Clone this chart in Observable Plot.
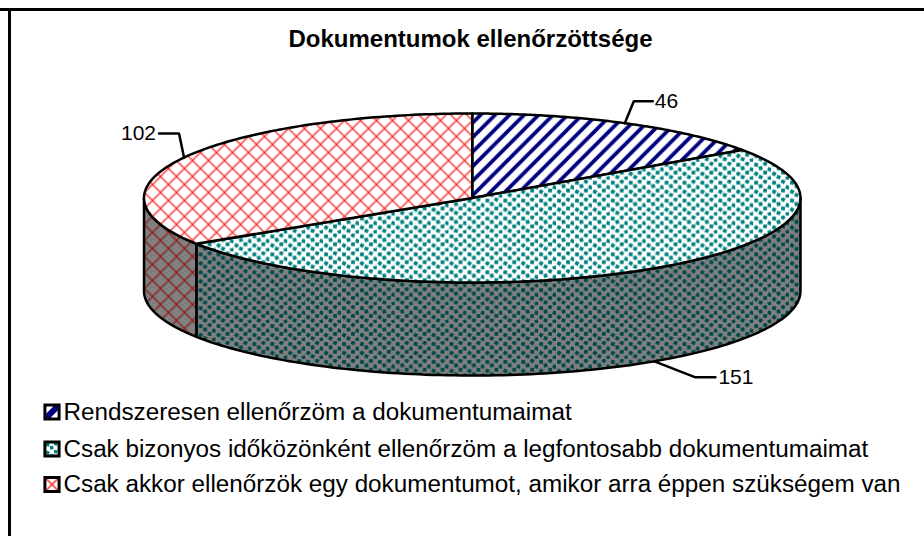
<!DOCTYPE html>
<html><head><meta charset="utf-8">
<script src="https://cdn.jsdelivr.net/npm/d3@7"></script>
<script src="https://cdn.jsdelivr.net/npm/@observablehq/plot@0.6"></script>
<style>html,body{margin:0;padding:0;background:#fff}svg{display:block}</style>
</head><body><div id="c"></div>
<script>
const titleText = "Dokumentumok ellenőrzöttsége";
const categories = [
  "Rendszeresen ellenőrzöm a dokumentumaimat",
  "Csak bizonyos időközönként ellenőrzöm a legfontosabb dokumentumaimat",
  "Csak akkor ellenőrzök egy dokumentumot, amikor arra éppen szükségem van"
];
const values = [46, 151, 102];
const topFills = ["url(#pStripe)", "url(#pDots)", "url(#pCross)"];
const sideFills = ["url(#pStripeD)", "url(#pDotsD)", "url(#pCrossD)"];
const swatchFills = ["url(#sStripe)", "url(#sDots)", "url(#sCross)"];

// pie geometry in ellipse units: the x and y scales below map the unit ellipse to the page
const X0 = 143.5, X1 = 800, Y0 = 113, Y1 = 282;
const depth = 93 / ((Y1 - Y0) / 2);
const ux = px => -1 + 2 * (px - X0) / (X1 - X0);
const uy = py => 1 - 2 * (py - Y0) / (Y1 - Y0);
const total = d3.sum(values);
let acc = 0;
const slices = values.map((v, i) => {
  const a0 = acc / total * 2 * Math.PI; acc += v;
  const a1 = acc / total * 2 * Math.PI;
  return {i, v, a0, a1, mid: (a0 + a1) / 2};
});
const pt = (a, z = 0) => ({x: Math.sin(a), y: Math.cos(a) - z});
const arc = (a0, a1, z = 0) => d3.range(0, 121).map(k => pt(a0 + (a1 - a0) * k / 120, z));
const topPoly = s => [{x: 0, y: 0}, ...arc(s.a0, s.a1), {x: 0, y: 0}];
const front = s => [Math.max(s.a0, Math.PI / 2), Math.min(s.a1, 3 * Math.PI / 2)];
const sidePoly = s => {
  const [a, b] = front(s);
  const p = [...arc(a, b), ...arc(a, b, depth).reverse()];
  return [...p, p[0]];
};
const sideSlices = slices.filter(s => front(s)[0] < front(s)[1]);

// leader lines: start on the slice's mid angle, then two pixel offsets
const leaderOffsets = [[[9, -22], [28, -22]], [[41, 16], [61, 16]], [[-5, -24], [-25, -24]]];
const labelAnchor = ["start", "start", "end"];
const labelDx = [2, 3, -3];
const leaders = slices.map((s, i) => {
  const frontSide = s.mid > Math.PI / 2 && s.mid < 3 * Math.PI / 2;
  const p = pt(s.mid, frontSide ? depth : 0);
  const sx = (p.x + 1) / 2 * (X1 - X0) + X0, sy = (1 - p.y) / 2 * (Y1 - Y0) + Y0;
  const pts = [[sx, sy], ...leaderOffsets[i].map(([dx, dy]) => [sx + dx, sy + dy])];
  return pts.map(([a, b]) => ({x: ux(a), y: uy(b)}));
});

const font = "'Liberation Sans', Arial, sans-serif";
const legendY = [411.5, 448.5, 484];

const marks = [
  Plot.frame({anchor: "top", insetTop: 9, strokeWidth: 3, stroke: "#000"}),
  Plot.frame({anchor: "left", insetLeft: 9, insetTop: 9, strokeWidth: 3, stroke: "#000"}),
  Plot.text([titleText], {frameAnchor: "top-left", dx: 470, dy: 39, text: d => d, textAnchor: "middle", lineAnchor: "middle",
    fontFamily: font, fontWeight: "bold", fontSize: 24, fill: "#000"}),
  ...sideSlices.map(s => Plot.line(sidePoly(s), {x: "x", y: "y", fill: "#808080", stroke: "none"})),
  ...sideSlices.map(s => Plot.line(sidePoly(s), {x: "x", y: "y", fill: sideFills[s.i], stroke: "#000", strokeWidth: 2.5})),
  ...slices.map(s => Plot.line(topPoly(s), {x: "x", y: "y", fill: topFills[s.i], stroke: "#000", strokeWidth: 2.5})),
  ...leaders.map(l => Plot.line(l, {x: "x", y: "y", stroke: "#000", strokeWidth: 2.5, strokeLinejoin: "miter"})),
  ...slices.map((s, i) => Plot.text([values[i]], {
    x: () => leaders[i][2].x, y: () => leaders[i][2].y, text: d => String(d), lineAnchor: "middle",
    textAnchor: labelAnchor[i], dx: labelDx[i], fontFamily: font, fontSize: 21, fill: "#000"})),
  ...categories.map((c, i) => Plot.dot([c], {frameAnchor: "top-left", dx: 51.5, dy: legendY[i],
    symbol: "square", r: 8, fill: swatchFills[i], stroke: "#000", strokeWidth: 3})),
  ...categories.map((c, i) => Plot.text([c], {frameAnchor: "top-left", dx: 63, dy: legendY[i], text: d => d,
    textAnchor: "start", lineAnchor: "middle", fontFamily: font, fontSize: 24.25, fill: "#000"}))
];

const chart = Plot.plot({
  width: 924, height: 536, margin: 0,
  style: {background: "#fff", fontFamily: font},
  x: {domain: [-1, 1], range: [X0, X1], axis: null},
  y: {domain: [1, -1], range: [Y0, Y1], axis: null},
  marks
});

// hatch patterns of the spreadsheet-style chart
const defs = d3.select(chart).insert("defs", ":first-child");
const NS = (id, w, h, bg, draw, tf) => {
  const p = defs.append("pattern").attr("id", id).attr("patternUnits", "userSpaceOnUse")
    .attr("width", w).attr("height", h);
  if (tf) p.attr("patternTransform", tf);
  if (bg) p.append("rect").attr("width", w).attr("height", h).attr("fill", bg);
  draw(p);
};
const stripe = color => p => {
  [[-2, 2, 2, -2], [0, 14.5, 14.5, 0], [12.5, 16.5, 16.5, 12.5]].forEach(([a, b, c, d]) =>
    p.append("line").attr("x1", a).attr("y1", b).attr("x2", c).attr("y2", d)
      .attr("stroke", color).attr("stroke-width", 3.8));
};
const dots = color => p => {
  [[1, 1, 12], [9, 0, 25], [5, 4, -10], [13, 5, 15], [1, 9, 30], [9, 8, 8], [5, 12, 20], [13, 13, -15]].forEach(([x, y, r]) =>
    p.append("rect").attr("x", x).attr("y", y).attr("width", 3.4).attr("height", 3.4)
      .attr("fill", color).attr("transform", `rotate(${r} ${x + 1.7} ${y + 1.7})`));
};
const cross = (color, w, n = 16) => p => {
  [[0, 0, n, n], [0, n, n, 0]].forEach(([a, b, c, d]) =>
    p.append("line").attr("x1", a).attr("y1", b).attr("x2", c).attr("y2", d)
      .attr("stroke", color).attr("stroke-width", w));
};
NS("pStripe", 14.5, 14.5, "#fff", stripe("#000080"));
NS("pDots", 16, 16, "#fff", dots("#008080"), "scale(1.12)");
NS("pCross", 16, 16, "#fff", cross("#ff2a2a", 1.3));
NS("pStripeD", 14.5, 14.5, "#808080", stripe("#000040"));
NS("pDotsD", 16, 16, "#808080", dots("#004848"), "scale(1.12)");
NS("pCrossD", 16, 16, "#808080", cross("#901c1c", 1.3));
// swatches: one tile of each pattern aligned to the legend box (dots are centred on their own origin)
NS("sStripe", 14, 14, "#fff", p => p.append("line").attr("x1", 0).attr("y1", 14).attr("x2", 14).attr("y2", 0)
  .attr("stroke", "#000080").attr("stroke-width", 6), "translate(-7 -7)");
NS("sDots", 16, 16, "#fff", dots("#008080"), "translate(-7 -7)");
NS("sCross", 14, 14, "#fff", cross("#ff4040", 1.6, 14), "translate(-7 -7)");
document.getElementById("c").appendChild(chart);
</script></body></html>
